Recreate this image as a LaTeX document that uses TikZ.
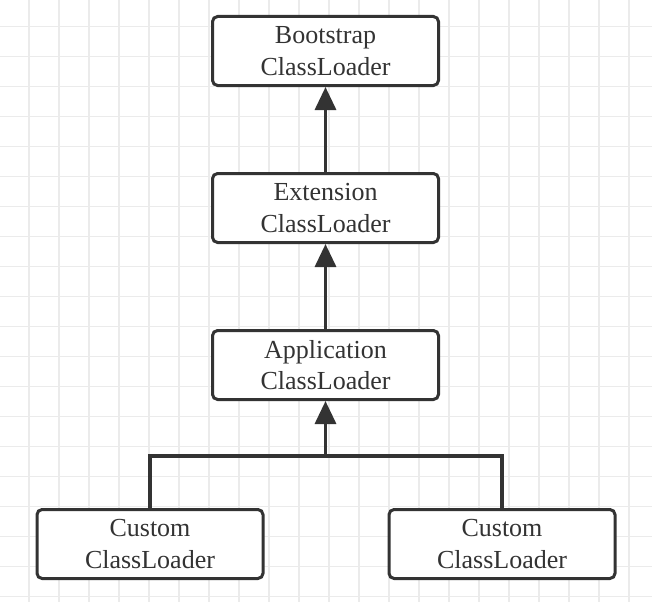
\documentclass[tikz,border=0pt]{standalone}
\usepackage{fontspec}
\setmainfont{Liberation Serif}
\usetikzlibrary{arrows.meta,positioning}
\usepackage{xcolor}
\definecolor{Ink}{HTML}{333333}
\definecolor{Grid}{HTML}{EBEBEB}

\begin{document}
\begin{tikzpicture}[
    x=1pt,y=1pt,
    loader/.style={draw=Ink,line width=3pt,rounded corners=1.8mm,fill=white,minimum width=226pt,minimum height=69pt,align=center,text=Ink,font=\fontsize{26}{31.5}\selectfont},
    link/.style={draw=Ink,line width=3.3pt},
    arrow/.style={link,-{Triangle[length=23pt,width=21pt]}}
  ]
    \useasboundingbox (0,0) rectangle (652,-602);
    % background grid
    \fill[white] (0,0) rectangle (652,-602);
    \foreach \i in {0,...,20}
      \draw[Grid,line width=1.3pt] (29+30*\i,0) -- (29+30*\i,-602);
    \foreach \i in {0,...,19}
      \draw[Grid,line width=1.3pt] (0,-26.7-30*\i) -- (652,-26.7-30*\i);

    \node[loader] (boot) at (325.5,-51) {Bootstrap\\ClassLoader};
    \node[loader,below=85pt of boot] (ext) {Extension\\ClassLoader};
    \node[loader,below=85pt of ext] (app) {Application\\ClassLoader};
    \node[loader,below=107pt of app,xshift=-175.5pt] (custa) {Custom\\ClassLoader};
    \node[loader,below=107pt of app,xshift=176.5pt] (custb) {Custom\\ClassLoader};
    \coordinate[below=55pt of app] (join);

    \draw[arrow] (ext) -- (boot);
    \draw[arrow] (app) -- (ext);
    \draw[link] (custa) |- (join) -| (custb);
    \draw[arrow] (join) -- (app);
  \end{tikzpicture}
\end{document}
